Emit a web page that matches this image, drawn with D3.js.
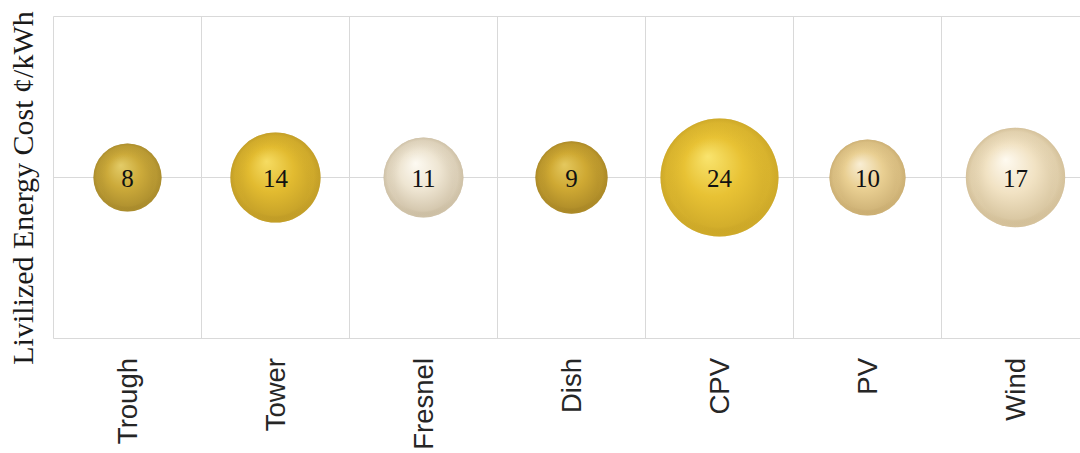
<!DOCTYPE html>
<html>
<head>
<meta charset="utf-8">
<script src="https://cdn.jsdelivr.net/npm/d3@7"></script>
<style>
  html, body { margin: 0; padding: 0; background: #fff; }
  svg { display: block; }
</style>
</head>
<body>
<svg id="chart" width="1080" height="453"></svg>
<script>
// Levelized energy cost by technology (cents per kWh)
const categories = ["Trough", "Tower", "Fresnel", "Dish", "CPV", "PV", "Wind"];
const costs = [8, 14, 11, 9, 24, 10, 17];
const yTicks = [0, 1, 2];
const yTitle = "Livilized Energy Cost \u00A2/kWh";

// sphere shading: [highlight, base, rim]
const shades = [
  ["#e3cc68", "#ccaa3a", "#977b25"],
  ["#f6dc62", "#e2bb30", "#b08d22"],
  ["#fdfaf2", "#eee5d2", "#bbab8c"],
  ["#e4c85e", "#cfa933", "#977720"],
  ["#f9e46e", "#e8c234", "#be9a22"],
  ["#f9eed4", "#e9cf92", "#bb9d62"],
  ["#fefaf0", "#f1e2c3", "#c3ad82"]
];

const svg = d3.select("#chart");
const plotLeft = 53.5, plotTop = 16.5, plotBottom = 338.5, band = 148;
const plotRight = plotLeft + band * categories.length;

const x = d3.scaleBand().domain(categories).range([plotLeft, plotRight]).paddingInner(0).paddingOuter(0);
const y = d3.scaleLinear().domain([0, 2]).range([plotBottom, plotTop]);
const r = d3.scaleSqrt().domain([0, 24]).range([0, 59]);
const shade = d3.scaleOrdinal().domain(categories).range(shades);

// gradients: main sphere shading plus a faint reflected rim at the bottom
const defs = svg.append("defs");
categories.forEach((c, i) => {
  const s = shade(c);
  const g = defs.append("radialGradient")
    .attr("id", "sph" + i)
    .attr("cx", "50%").attr("cy", "50%").attr("r", "50%")
    .attr("fx", "40%").attr("fy", "32%");
  g.append("stop").attr("offset", "0%").attr("stop-color", s[0]);
  g.append("stop").attr("offset", "50%").attr("stop-color", s[1]);
  g.append("stop").attr("offset", "88%").attr("stop-color", d3.interpolateRgb(s[1], s[2])(0.5));
  g.append("stop").attr("offset", "100%").attr("stop-color", s[2]);
  const b = defs.append("radialGradient")
    .attr("id", "rim" + i)
    .attr("cx", "50%").attr("cy", "50%").attr("r", "50%")
    .attr("fx", "50%").attr("fy", "78%");
  b.append("stop").attr("offset", "72%").attr("stop-color", s[1]).attr("stop-opacity", 0);
  b.append("stop").attr("offset", "100%").attr("stop-color", s[1]).attr("stop-opacity", 0.4);
});

const grid = "#d9d9d9";
// horizontal gridlines
svg.append("g").selectAll("line").data(yTicks).join("line")
  .attr("x1", plotLeft).attr("x2", plotRight)
  .attr("y1", d => y(d)).attr("y2", d => y(d))
  .attr("stroke", grid).attr("stroke-width", 1);
// vertical category dividers
const edges = categories.map(c => x(c)).concat([plotRight]);
svg.append("g").selectAll("line").data(edges).join("line")
  .attr("x1", d => d).attr("x2", d => d)
  .attr("y1", plotTop).attr("y2", plotBottom)
  .attr("stroke", grid).attr("stroke-width", 1);

// bubbles
const cx = c => x(c) + x.bandwidth() / 2;
const bub = svg.append("g").selectAll("g").data(categories).join("g");
bub.append("circle")
  .attr("cx", d => cx(d)).attr("cy", y(1))
  .attr("r", (d, i) => r(costs[i]))
  .attr("fill", (d, i) => `url(#sph${i})`);
bub.append("circle")
  .attr("cx", d => cx(d)).attr("cy", y(1))
  .attr("r", (d, i) => r(costs[i]))
  .attr("fill", (d, i) => `url(#rim${i})`);

// value labels
svg.append("g").selectAll("text").data(categories).join("text")
  .attr("x", d => cx(d)).attr("y", y(1))
  .attr("dy", "0.36em")
  .attr("text-anchor", "middle")
  .attr("font-family", "'Liberation Serif', 'Times New Roman', serif")
  .attr("font-size", 25)
  .attr("fill", "#111")
  .text((d, i) => costs[i]);

// category axis labels
svg.append("g").selectAll("text").data(categories).join("text")
  .attr("transform", d => `translate(${cx(d)},358) rotate(-90)`)
  .attr("dy", "0.35em")
  .attr("text-anchor", "end")
  .attr("font-family", "'Liberation Sans', Arial, sans-serif")
  .attr("font-size", 27.5)
  .attr("fill", "#262626")
  .text(d => d);

// y-axis title
svg.append("text")
  .attr("transform", "translate(33,188) rotate(-90)")
  .attr("text-anchor", "middle")
  .attr("font-family", "'Liberation Serif', 'Times New Roman', serif")
  .attr("font-size", 30)
  .attr("fill", "#1a1a1a")
  .text(yTitle);
</script>
</body>
</html>
